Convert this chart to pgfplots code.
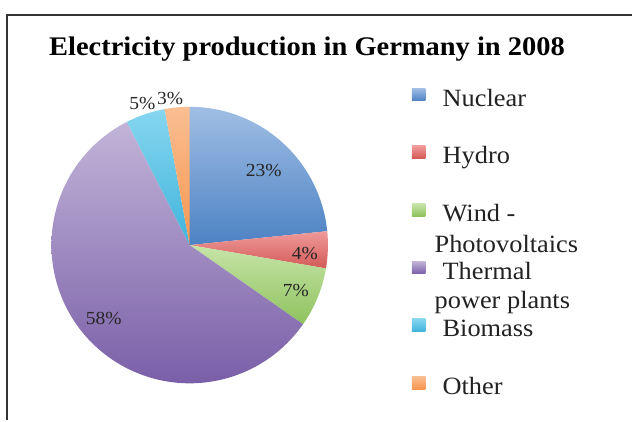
\documentclass[border=0pt]{standalone}
\usepackage{fontspec}
\setmainfont{Liberation Serif}[FakeStretch=1.06]
\usepackage{pgfplots}
\pgfplotsset{compat=1.18}

\definecolor{nucT}{HTML}{A0BEE4}\definecolor{nucB}{HTML}{4C82C4}
\definecolor{hydT}{HTML}{F09A9A}\definecolor{hydB}{HTML}{D25A58}
\definecolor{winT}{HTML}{C6E4A8}\definecolor{winB}{HTML}{8FC25E}
\definecolor{theT}{HTML}{C2B4D8}\definecolor{theB}{HTML}{7A5FA8}
\definecolor{bioT}{HTML}{86D6F0}\definecolor{bioB}{HTML}{40B4DC}
\definecolor{othT}{HTML}{FABE92}\definecolor{othB}{HTML}{F6964E}
\definecolor{txt}{HTML}{222222}

% shares in percent
\def\vNuc{23.4}
\def\vHyd{4.3}
\def\vWin{7.0}
\def\vThe{57.8}
\def\vBio{4.6}
\def\vOth{2.9}

\pgfmathsetmacro\aA{90}
\pgfmathsetmacro\aB{\aA-3.6*\vNuc}
\pgfmathsetmacro\aC{\aB-3.6*\vHyd}
\pgfmathsetmacro\aD{\aC-3.6*\vWin}
\pgfmathsetmacro\aE{\aD-3.6*\vThe}
\pgfmathsetmacro\aF{\aE-3.6*\vBio}
\pgfmathsetmacro\aG{\aF-3.6*\vOth}

\def\cx{190}
\def\cy{175.5}
\def\rr{138.5}

\begin{document}
\begin{tikzpicture}
\begin{axis}[
  width=633bp, height=421bp, scale only axis,
  xmin=0, xmax=633, ymin=0, ymax=421,
  hide axis, clip=false,
  title={Electricity production in Germany in 2008},
  title style={at={(axis description cs:0.0774,0.8546)}, anchor=base west,
    yshift=0pt, inner sep=0pt, font=\bfseries\fontsize{27}{32}\selectfont, text=black},
  legend cell align=left,
  legend image code/.code={\fill[#1] (0bp,-0.25bp) rectangle (13.3bp,12.25bp);},
  legend style={draw=none, fill=none, inner sep=0pt, outer sep=0pt,
    at={(axis description cs:0.65197,0.78979)}, anchor=north west,
    row sep=34bp, column sep=17.4bp,
    font=\fontsize{25}{30}\selectfont, text=txt,
    nodes={inner sep=0pt, text height=17bp, text depth=6bp}},
]
\path (rel axis cs:0,0) rectangle (rel axis cs:1,1);

\addplot[draw=none, top color=nucT, bottom color=nucB, domain=\aB:\aA, samples=80]
  ({\cx+\rr*cos(x)},{\cy+\rr*sin(x)}) -- (axis cs:\cx,\cy) -- cycle;
\addlegendentry{Nuclear}
\addplot[draw=none, top color=hydT, bottom color=hydB, domain=\aC:\aB, samples=30]
  ({\cx+\rr*cos(x)},{\cy+\rr*sin(x)}) -- (axis cs:\cx,\cy) -- cycle;
\addlegendentry{Hydro}
\addplot[draw=none, top color=winT, bottom color=winB, domain=\aD:\aC, samples=40]
  ({\cx+\rr*cos(x)},{\cy+\rr*sin(x)}) -- (axis cs:\cx,\cy) -- cycle;
\addlegendentry{\makebox[0pt][l]{\hspace{-8bp}\raisebox{-31bp}[0pt][0pt]{Photovoltaics}}Wind -}
\addplot[draw=none, top color=theT, bottom color=theB, domain=\aE:\aD, samples=160]
  ({\cx+\rr*cos(x)},{\cy+\rr*sin(x)}) -- (axis cs:\cx,\cy) -- cycle;
\addlegendentry{\makebox[0pt][l]{\hspace{-8bp}\raisebox{-30bp}[0pt][0pt]{power plants}}Thermal}
\addplot[draw=none, top color=bioT, bottom color=bioB, domain=\aF:\aE, samples=30]
  ({\cx+\rr*cos(x)},{\cy+\rr*sin(x)}) -- (axis cs:\cx,\cy) -- cycle;
\addlegendentry{Biomass}
\addplot[draw=none, top color=othT, bottom color=othB, domain=\aG:\aF, samples=20]
  ({\cx+\rr*cos(x)},{\cy+\rr*sin(x)}) -- (axis cs:\cx,\cy) -- cycle;
\addlegendentry{Other}

% percentage labels
\begin{scope}[every node/.style={anchor=base, inner sep=0pt, text=black!85,
    font=\fontsize{18.5}{22}\selectfont}]
\node at (axis cs:264.2,244.3) {23\%};
\node at (axis cs:305.3,161) {4\%};
\node at (axis cs:296.5,124.3) {7\%};
\node at (axis cs:104,96) {58\%};
\node at (axis cs:142.5,311) {5\%};
\node at (axis cs:170.3,316) {3\%};
\end{scope}

% frame of the chart area
\draw[line width=2.2bp, color=black!80, line join=miter]
  (axis cs:7.3,0) -- (axis cs:7.3,406.3) -- (axis cs:633,406.3);
\end{axis}
\end{tikzpicture}
\end{document}
